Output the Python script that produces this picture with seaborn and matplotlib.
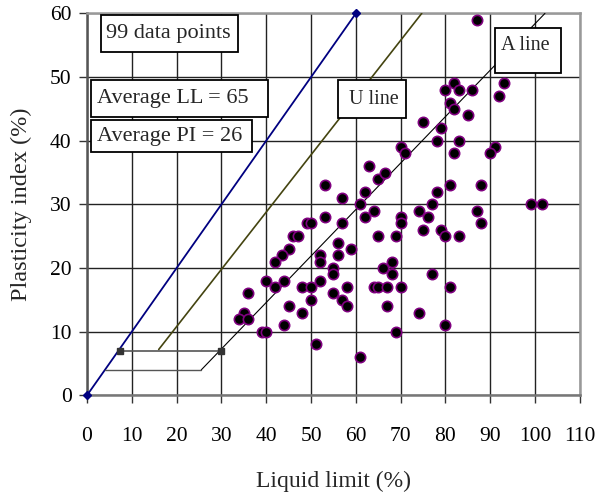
import matplotlib
matplotlib.use("Agg")
import matplotlib.pyplot as plt
from matplotlib.patches import Rectangle
import seaborn as sns
import pandas as pd

# liquid limit / plasticity index
ll = [53, 57, 62, 61, 64, 62, 65, 53, 49, 50, 57, 46, 47, 45, 43.5, 42, 56, 59, 52, 56,
      52, 55, 55, 40, 42, 44, 48, 50, 52, 58, 36, 50, 55, 57, 58, 45, 48, 35, 34, 36,
      44, 39, 40, 51, 61,
      81, 88, 78, 77, 70, 70, 74, 76, 87, 88, 69, 75, 79, 80, 83, 68, 66, 68, 77, 64,
      65, 67, 70, 81, 67, 74, 80, 69,
      99, 101.5,
      87, 82, 80, 83, 86, 93, 92, 81, 82, 85, 75, 79, 78, 83, 82, 70, 71, 91, 90, 63,
      65, 66.5]
pi = [33, 31, 32, 30, 29, 28, 25, 28, 27, 27, 27, 25, 25, 23, 22, 21, 24, 23, 22, 22,
      21, 20, 19, 18, 17, 18, 17, 17, 18, 17, 16, 15, 16, 15, 14, 14, 13, 13, 12, 12,
      11, 10, 10, 8, 6,
      33, 33, 32, 30, 28, 27, 29, 28, 29, 27, 25, 26, 26, 25, 25, 21, 20, 19, 19, 17,
      17, 17, 17, 17, 14, 13, 11, 10,
      30, 30,
      59, 49, 48, 48, 48, 49, 47, 46, 45, 44, 43, 42, 40, 40, 38, 39, 38, 39, 38, 36,
      34, 35]

# reference lines (end points)
upper_x = [0, 60]
upper_y = [0, 60]
u_line_x = [16, 74.7]
u_line_y = [7.2, 60]
a_line_x = [25.5, 102.2]
a_line_y = [4, 60]
zone7_x = [7.4, 30]
zone7_y = [7, 7]
zone4_x = [4, 25.5]
zone4_y = [4, 4]

# text boxes: label, box (x0, x1, y0, y1), text anchor (x, y), font size
labels = ["99 data points", "Average LL = 65", "Average PI = 26", "U line", "A line"]
boxes = [(3.1, 33.6, 53.9, 59.7), (0.9, 40.4, 43.7, 49.5), (0.9, 36.8, 38.2, 43.25),
         (56.05, 71.1, 43.6, 49.5), (91.0, 105.8, 50.6, 57.7)]
anchors = [(4.3, 56.8), (2.3, 46.6), (2.3, 40.7), (58.4, 46.5), (92.3, 54.9)]
sizes = [16, 16, 16, 14.5, 14.5]

df = pd.DataFrame({"LL": ll, "PI": pi})

sns.set_style("white")
plt.rcParams["font.family"] = ["Liberation Serif", "DejaVu Serif"]

fig, ax = plt.subplots(figsize=(5.96, 4.96), dpi=100)
fig.subplots_adjust(left=0.146, right=0.973, bottom=0.203, top=0.973)

ax.set_xlim(0, 110)
ax.set_ylim(0, 60)
ax.set_xticks(range(0, 111, 10))
ax.set_yticks(range(0, 61, 10))
ax.grid(True, color="#222222", linewidth=1.0)
ax.set_axisbelow(True)

ax.plot(upper_x, upper_y, color="#000080", lw=1.3, marker="D", ms=4,
        clip_on=False, zorder=3)
ax.plot(u_line_x, u_line_y, color="#444410", lw=1.2, zorder=3)
ax.plot(a_line_x, a_line_y, color="black", lw=0.8, zorder=3)
ax.plot(zone7_x, zone7_y, color="#555555", lw=1.2, marker="s", ms=4,
        mfc="#333333", mec="#333333", zorder=3)
ax.plot(zone4_x, zone4_y, color="#555555", lw=1.0, zorder=3)

sns.scatterplot(data=df, x="LL", y="PI", ax=ax, s=55, color="black",
                edgecolor="#800080", linewidth=1.2, zorder=5)

for lab, (x0, x1, y0, y1), (tx, ty), fs in zip(labels, boxes, anchors, sizes):
    ax.add_patch(Rectangle((x0, y0), x1 - x0, y1 - y0, facecolor="white",
                           edgecolor="black", lw=1.3, zorder=6, clip_on=False))
    ax.text(tx, ty, lab, fontsize=fs, ha="left", va="center", zorder=7)

ax.spines["left"].set_color("#555555")
ax.spines["bottom"].set_color("#777777")
ax.spines["top"].set_color("#999999")
ax.spines["right"].set_color("#999999")
for s in ax.spines.values():
    s.set_linewidth(1.8)

ax.tick_params(axis="both", labelsize=15.5, colors="black", length=6, width=1,
               direction="out", bottom=True, left=True)
ax.tick_params(axis="both", color="#333333")
ax.tick_params(axis="x", pad=17)
ax.tick_params(axis="y", pad=5)
ax.set_xlabel("Liquid limit (%)", fontsize=17, labelpad=18)
ax.set_ylabel("Plasticity index (%)", fontsize=17.5, labelpad=13)

fig.savefig("out.png", dpi=100)
